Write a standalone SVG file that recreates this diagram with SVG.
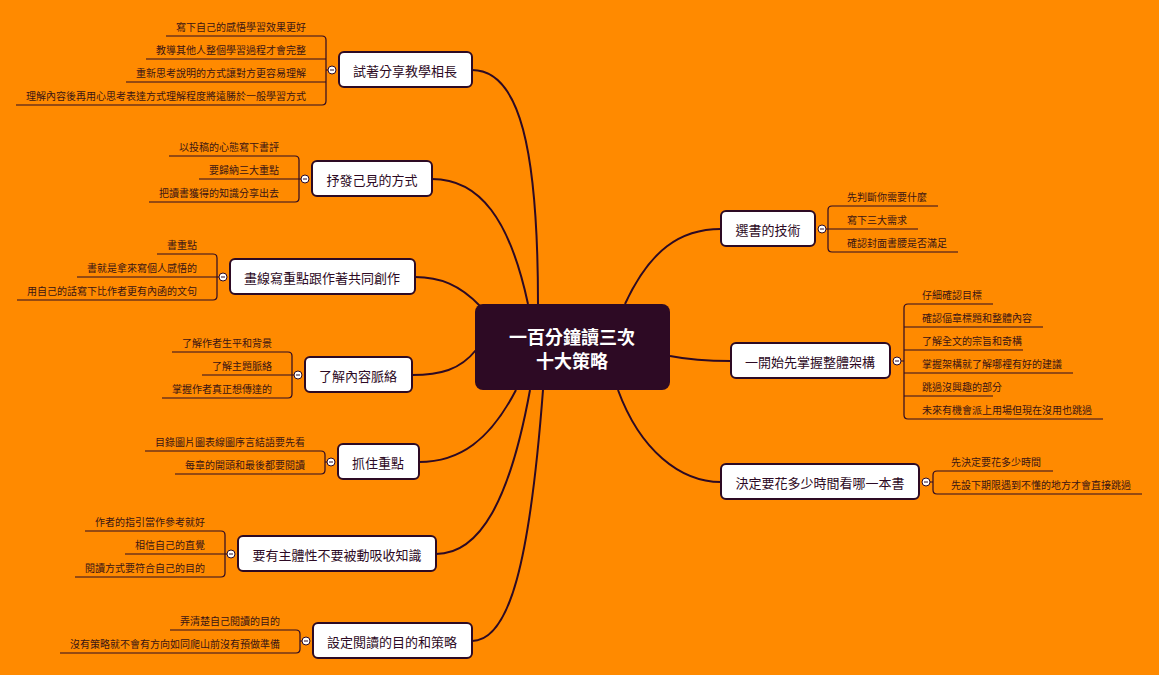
<svg xmlns="http://www.w3.org/2000/svg" width="1159" height="675" viewBox="0 0 1159 675">
<style>
.bg{fill:#FF8A00}
.box{fill:#fff;stroke:#2D0A24;stroke-width:2}
.nt{font-family:"Noto Sans CJK TC","Noto Sans CJK SC",sans-serif;font-size:13px;fill:#2D0A24;text-anchor:middle;dominant-baseline:central}
.lf{font-family:"Noto Sans CJK TC","Noto Sans CJK SC",sans-serif;font-size:10px;fill:#3A1414}
.r{text-anchor:end}
.ln{fill:none;stroke:#2D0A24;stroke-width:1.2}
.cn{fill:none;stroke:#2D0A24;stroke-width:2}
.tg{fill:#fff;stroke:#2D0A24;stroke-width:1}
.mn{stroke:#2D0A24;stroke-width:1}
</style>
<defs><g id="tog"><circle class="tg" r="4"/><path class="mn" d="M-2 0H2"/></g></defs>
<rect class="bg" width="1159" height="675"/>
<g id="connectors">
<path class="cn" d="M538 304 C538 150 520 70 472 70"/>
<path class="cn" d="M528 304 C510 220 480 179 432 179"/>
<path class="cn" d="M480 306 C460 285 440 277 415 277"/>
<path class="cn" d="M476 350 C460 370 440 375 412 375"/>
<path class="cn" d="M516 390 C490 440 460 462 419 462"/>
<path class="cn" d="M530 390 C510 500 480 554 436 554"/>
<path class="cn" d="M543 390 C530 560 510 641 472 641"/>
<path class="cn" d="M625 304 C650 250 680 229 721 229"/>
<path class="cn" d="M670 356 C690 360 710 361 731 361"/>
<path class="cn" d="M618 390 C640 450 680 482 721 482"/>
</g>
<g id="center"><rect x="475" y="304" width="195" height="86" rx="8" fill="#2D0A24"/>
<text x="572" y="336" font-family="Noto Sans CJK TC,sans-serif" font-size="18" font-weight="bold" fill="#fff" text-anchor="middle" dominant-baseline="central">一百分鐘讀三次</text>
<text x="572" y="360" font-family="Noto Sans CJK TC,sans-serif" font-size="18" font-weight="bold" fill="#fff" text-anchor="middle" dominant-baseline="central">十大策略</text></g>

<g id="n1"><path class="ln" d="M166 36H322Q326 36 326 40V101Q326 105 322 105H16M146 59H326M126 82H326M326 70H329"/>
<text class="lf r" x="306" y="31">寫下自己的感悟學習效果更好</text><text class="lf r" x="306" y="54">教導其他人整個學習過程才會完整</text><text class="lf r" x="306" y="77">重新思考說明的方式讓對方更容易理解</text><text class="lf r" x="306" y="100">理解內容後再用心思考表達方式理解程度將遠勝於一般學習方式</text>
<use href="#tog" x="332" y="70"/><rect class="box" x="339" y="52" width="133" height="35" rx="5"/><text class="nt" x="405" y="70">試著分享教學相長</text></g>

<g id="n2"><path class="ln" d="M169 156H295Q299 156 299 160V198Q299 202 295 202H149M199 179H302"/>
<text class="lf r" x="279" y="151">以投稿的心態寫下書評</text><text class="lf r" x="279" y="174">要歸納三大重點</text><text class="lf r" x="279" y="197">把讀書獲得的知識分享出去</text>
<use href="#tog" x="305" y="179"/><rect class="box" x="312" y="161" width="120" height="35" rx="5"/><text class="nt" x="372" y="179">抒發己見的方式</text></g>

<g id="n3"><path class="ln" d="M157 254H213Q217 254 217 258V296Q217 300 213 300H17M77 277H220"/>
<text class="lf r" x="197" y="249">書重點</text><text class="lf r" x="197" y="272">書就是拿來寫個人感悟的</text><text class="lf r" x="197" y="295">用自己的話寫下比作者更有內函的文句</text>
<use href="#tog" x="223" y="277"/><rect class="box" x="230" y="259" width="185" height="35" rx="5"/><text class="nt" x="322" y="277">畫線寫重點跟作著共同創作</text></g>

<g id="n4"><path class="ln" d="M172 352H288Q292 352 292 356V394Q292 398 288 398H162M202 375H295"/>
<text class="lf r" x="272" y="347">了解作者生平和背景</text><text class="lf r" x="272" y="370">了解主題脈絡</text><text class="lf r" x="272" y="393">掌握作者真正想傳達的</text>
<use href="#tog" x="298" y="375"/><rect class="box" x="305" y="357" width="107" height="35" rx="5"/><text class="nt" x="358" y="375">了解內容脈絡</text></g>

<g id="n5"><path class="ln" d="M145 451H321Q325 451 325 455V470Q325 474 321 474H175M325 462H328"/>
<text class="lf r" x="305" y="446">目錄圖片圖表線圖序言結語要先看</text><text class="lf r" x="305" y="469">每章的開頭和最後都要閱讀</text>
<use href="#tog" x="331" y="462"/><rect class="box" x="338" y="444" width="81" height="35" rx="5"/><text class="nt" x="378" y="462">抓住重點</text></g>

<g id="n6"><path class="ln" d="M85 531H221Q225 531 225 535V573Q225 577 221 577H75M125 554H228"/>
<text class="lf r" x="205" y="526">作者的指引當作參考就好</text><text class="lf r" x="205" y="549">相信自己的直覺</text><text class="lf r" x="205" y="572">閱讀方式要符合自己的目的</text>
<use href="#tog" x="231" y="554"/><rect class="box" x="238" y="536" width="198" height="35" rx="5"/><text class="nt" x="337" y="554">要有主體性不要被動吸收知識</text></g>

<g id="n7"><path class="ln" d="M170 630H296Q300 630 300 634V649Q300 653 296 653H60M300 641H303"/>
<text class="lf r" x="280" y="625">弄清楚自己閱讀的目的</text><text class="lf r" x="280" y="648">沒有策略就不會有方向如同爬山前沒有預做準備</text>
<use href="#tog" x="306" y="641"/><rect class="box" x="313" y="623" width="159" height="35" rx="5"/><text class="nt" x="392" y="641">設定閱讀的目的和策略</text></g>

<g id="nA"><path class="ln" d="M938 206H832Q828 206 828 210V248Q828 252 832 252H958M918 229H825"/>
<text class="lf" x="847" y="201">先判斷你需要什麼</text><text class="lf" x="847" y="224">寫下三大需求</text><text class="lf" x="847" y="247">確認封面書腰是否滿足</text>
<use href="#tog" x="822" y="229"/><rect class="box" x="721" y="211" width="94" height="35" rx="5"/><text class="nt" x="768" y="229">選書的技術</text></g>

<g id="nB"><path class="ln" d="M993 304H908Q904 304 904 308V415Q904 419 908 419H1103M1043 327H904M1023 350H904M1073 373H904M993 396H904M904 361H901"/>
<text class="lf" x="922" y="299">仔細確認目標</text><text class="lf" x="922" y="322">確認偪章標題和整體內容</text><text class="lf" x="922" y="345">了解全文的宗旨和奇構</text><text class="lf" x="922" y="368">掌握架構就了解哪裡有好的建議</text><text class="lf" x="922" y="391">跳過沒興趣的部分</text><text class="lf" x="922" y="414">未來有機會派上用場但現在沒用也跳過</text>
<use href="#tog" x="897" y="361"/><rect class="box" x="731" y="343" width="159" height="35" rx="5"/><text class="nt" x="810" y="361">一開始先掌握整體架構</text></g>

<g id="nC"><path class="ln" d="M1053 471H937Q933 471 933 475V490Q933 494 937 494H1142M933 482H930"/>
<text class="lf" x="951" y="466">先決定要花多少時間</text><text class="lf" x="951" y="489">先設下期限遇到不懂的地方才會直接跳過</text>
<use href="#tog" x="926" y="482"/><rect class="box" x="721" y="464" width="198" height="35" rx="5"/><text class="nt" x="820" y="482">決定要花多少時間看哪一本書</text></g>
</svg>
